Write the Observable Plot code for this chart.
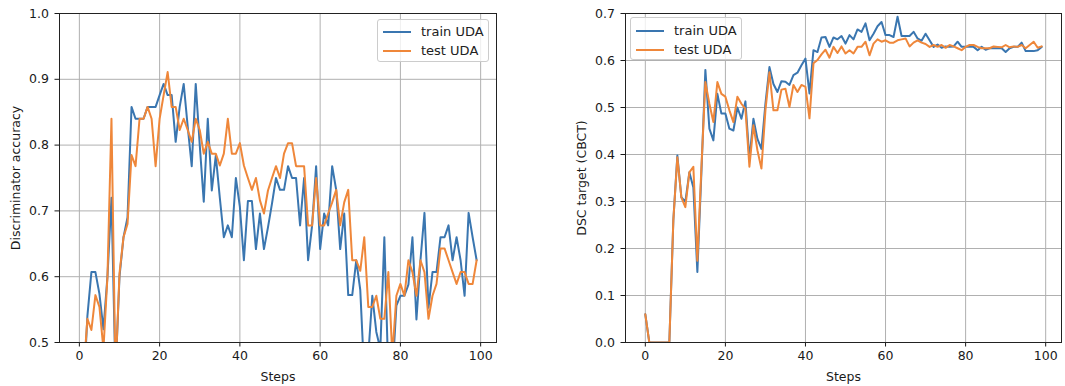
<!DOCTYPE html>
<html><head><meta charset="utf-8">
<script src="https://cdn.jsdelivr.net/npm/d3@7"></script>
<script src="https://cdn.jsdelivr.net/npm/@observablehq/plot@0.6"></script>
<style>
body{margin:0;background:#fff;}
#wrap{position:relative;width:1065px;height:386px;font-family:"DejaVu Sans",sans-serif;overflow:hidden;}
.panel{position:absolute;top:0;}
.legend{position:absolute;background:rgba(255,255,255,0.8);border:1px solid #cccccc;border-radius:3px;box-sizing:border-box;font-size:13px;color:#222;width:112px;height:43px;}
.legend .row{position:absolute;left:0;height:16px;line-height:16px;white-space:nowrap;}
.legend .sw{position:absolute;left:5px;top:7px;width:28px;height:0;border-top:2px solid;}
.legend .lb{position:absolute;left:43px;top:0;}
</style></head>
<body>
<div id="wrap"></div>
<script>
const steps = [0,1,2,3,4,5,6,7,8,9,10,11,12,13,14,15,16,17,18,19,20,21,22,23,24,25,26,27,28,29,30,31,32,33,34,35,36,37,38,39,40,41,42,43,44,45,46,47,48,49,50,51,52,53,54,55,56,57,58,59,60,61,62,63,64,65,66,67,68,69,70,71,72,73,74,75,76,77,78,79,80,81,82,83,84,85,86,87,88,89,90,91,92,93,94,95,96,97,98,99];
const seriesNames = ["train UDA", "test UDA"];
const seriesColors = ["#3a76b0", "#ef873a"];

const discTrain = [0.40,0.42,0.54,0.607,0.607,0.574,0.52,0.60,0.72,0.45,0.60,0.66,0.69,0.858,0.84,0.84,0.84,0.858,0.858,0.858,0.876,0.893,0.876,0.876,0.805,0.858,0.893,0.828,0.768,0.893,0.80,0.714,0.84,0.731,0.784,0.72,0.66,0.678,0.66,0.75,0.706,0.625,0.715,0.715,0.642,0.696,0.642,0.675,0.711,0.75,0.732,0.732,0.768,0.75,0.75,0.678,0.75,0.625,0.678,0.768,0.642,0.696,0.678,0.768,0.732,0.642,0.696,0.572,0.572,0.625,0.58,0.45,0.48,0.571,0.516,0.49,0.66,0.45,0.45,0.556,0.571,0.571,0.588,0.66,0.535,0.625,0.697,0.553,0.607,0.607,0.66,0.66,0.678,0.625,0.66,0.625,0.571,0.697,0.66,0.625];
const discTest = [0.40,0.45,0.536,0.519,0.572,0.554,0.49,0.60,0.84,0.45,0.605,0.66,0.68,0.785,0.768,0.84,0.84,0.858,0.84,0.768,0.84,0.876,0.911,0.858,0.858,0.823,0.84,0.823,0.805,0.84,0.823,0.787,0.805,0.787,0.787,0.769,0.787,0.84,0.787,0.787,0.803,0.769,0.75,0.732,0.75,0.716,0.696,0.731,0.75,0.768,0.75,0.787,0.803,0.803,0.768,0.768,0.768,0.678,0.678,0.75,0.678,0.678,0.696,0.713,0.732,0.678,0.713,0.732,0.625,0.625,0.609,0.66,0.554,0.554,0.571,0.536,0.536,0.607,0.48,0.571,0.589,0.571,0.625,0.607,0.571,0.625,0.607,0.536,0.571,0.589,0.643,0.643,0.625,0.607,0.589,0.607,0.607,0.589,0.589,0.625];

const dscTrain = [0.06,0,0,0,0,0,0,0.26,0.398,0.309,0.299,0.362,0.33,0.15,0.36,0.58,0.455,0.43,0.529,0.487,0.487,0.455,0.451,0.5,0.476,0.513,0.39,0.476,0.433,0.412,0.508,0.586,0.55,0.533,0.556,0.555,0.548,0.569,0.574,0.59,0.604,0.53,0.622,0.618,0.649,0.65,0.629,0.649,0.645,0.652,0.636,0.654,0.645,0.666,0.661,0.679,0.643,0.657,0.673,0.682,0.654,0.654,0.65,0.693,0.652,0.652,0.652,0.661,0.647,0.642,0.657,0.643,0.629,0.634,0.627,0.63,0.629,0.63,0.64,0.629,0.629,0.629,0.629,0.622,0.629,0.623,0.626,0.626,0.626,0.626,0.618,0.626,0.629,0.629,0.638,0.62,0.62,0.62,0.622,0.629];
const dscTest = [0.06,0,0,0,0,0,0,0.26,0.394,0.309,0.288,0.362,0.374,0.174,0.37,0.554,0.508,0.469,0.554,0.529,0.523,0.494,0.469,0.523,0.508,0.497,0.374,0.462,0.409,0.37,0.494,0.575,0.494,0.494,0.538,0.54,0.501,0.548,0.533,0.548,0.544,0.477,0.594,0.601,0.613,0.623,0.606,0.629,0.616,0.63,0.615,0.622,0.615,0.629,0.629,0.64,0.611,0.636,0.645,0.64,0.643,0.638,0.638,0.643,0.645,0.647,0.63,0.638,0.643,0.638,0.635,0.629,0.633,0.629,0.633,0.627,0.633,0.63,0.626,0.622,0.629,0.633,0.633,0.629,0.626,0.626,0.626,0.63,0.629,0.628,0.633,0.628,0.63,0.629,0.633,0.626,0.633,0.64,0.627,0.63];

const xTicks = [0,20,40,60,80,100];
const discTicks = [0.5,0.6,0.7,0.8,0.9,1.0];
const dscTicks = [0,0.1,0.2,0.3,0.4,0.5,0.6,0.7];

function panel({left, width, marginLeft, marginRight, train, test, yDomain, yTicks, yLabel, legendLeft, legendTop}) {
  const wrap = document.getElementById("wrap");
  const chart = Plot.plot({
    width, height: 386,
    marginLeft, marginRight, marginTop: 13, marginBottom: 44,
    style: {fontFamily: "DejaVu Sans, sans-serif", fontSize: "12.5px", color: "#1a1a1a", background: "transparent", overflow: "visible"},
    x: {domain: [-4.95, 103.95], ticks: xTicks, tickSize: 4.5, tickPadding: 4, tickFormat: d3.format("d"),
        label: "Steps", labelAnchor: "center", labelOffset: 38, labelArrow: "none"},
    y: {domain: yDomain, ticks: yTicks, tickSize: 4.5, tickPadding: 6, tickFormat: d3.format(".1f"),
        label: yLabel, labelAnchor: "center", labelOffset: 48, labelArrow: "none"},
    marks: [
      Plot.gridX(xTicks, {stroke: "#b0b0b0", strokeOpacity: 1, strokeWidth: 1}),
      Plot.gridY(yTicks, {stroke: "#b0b0b0", strokeOpacity: 1, strokeWidth: 1}),
      Plot.line(train, {x: steps, y: Plot.identity, stroke: seriesColors[0], strokeWidth: 2, clip: true}),
      Plot.line(test, {x: steps, y: Plot.identity, stroke: seriesColors[1], strokeWidth: 2, clip: true}),
      Plot.frame({stroke: "#222", strokeWidth: 1})
    ]
  });
  chart.classList.add("panel");
  chart.style.left = left + "px";
  wrap.appendChild(chart);

  const lg = document.createElement("div");
  lg.className = "legend";
  lg.style.left = legendLeft + "px";
  lg.style.top = legendTop + "px";
  seriesNames.forEach((name, i) => {
    const row = document.createElement("div");
    row.className = "row";
    row.style.top = (4.5 + i * 19) + "px";
    row.style.width = "100%";
    const sw = document.createElement("span");
    sw.className = "sw";
    sw.style.borderTopColor = seriesColors[i];
    const lb = document.createElement("span");
    lb.className = "lb";
    lb.textContent = name;
    row.appendChild(sw); row.appendChild(lb);
    lg.appendChild(row);
  });
  wrap.appendChild(lg);
}

panel({left: 0, width: 530, marginLeft: 59, marginRight: 34, train: discTrain, test: discTest,
  yDomain: [0.5, 1.0], yTicks: discTicks, yLabel: "Discriminator accuracy", legendLeft: 377, legendTop: 18.5});
panel({left: 530, width: 535, marginLeft: 95, marginRight: 4, train: dscTrain, test: dscTest,
  yDomain: [0, 0.7], yTicks: dscTicks, yLabel: "DSC target (CBCT)", legendLeft: 630, legendTop: 17});
</script>
</body></html>
